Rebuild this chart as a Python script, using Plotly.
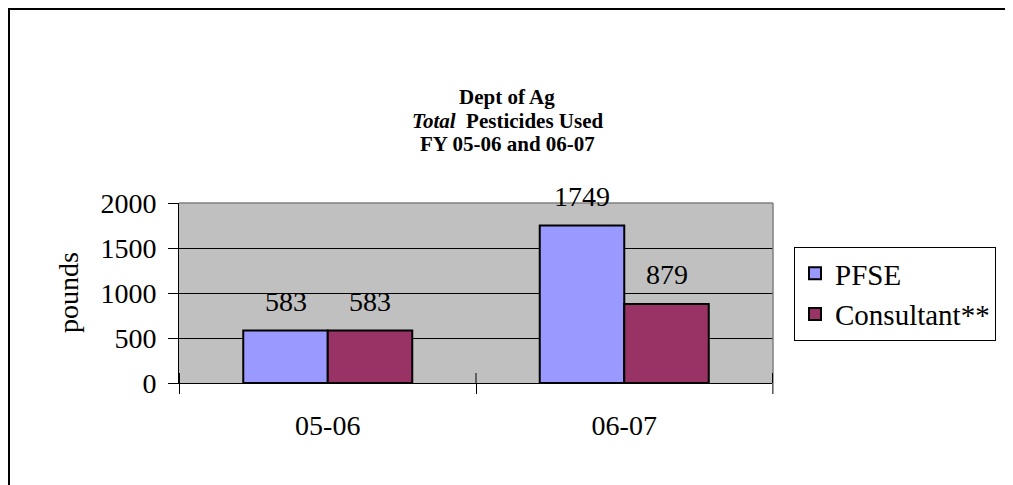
import plotly.graph_objects as go

categories = ["05-06", "06-07"]
series_names = ["PFSE", "Consultant**"]
pfse = [583, 1749]
consultant = [583, 879]
y_ticks = [0, 500, 1000, 1500, 2000]
title_lines = ["<b>Dept of Ag</b>", "<b><i>Total</i>  Pesticides Used</b>", "<b>FY 05-06 and 06-07</b>"]

colors = ["#9999FF", "#993366"]
FONT = "Liberation Serif, Times New Roman, serif"
BARGAP = 0.43
FS = 28

# page has an 8px body margin; work in figure pixels
OFF = 8
W, H = 1013 - OFF, 485 - OFF
L, R, T, B = 179 - OFF, 773 - OFF, 203 - OFF, 383 - OFF
pw, ph = R - L, B - T
def px(x):
    return (x - OFF - L) / pw
def py(y):
    return (B - (y - OFF)) / ph

fig = go.Figure()
for i, (name, vals) in enumerate(zip(series_names, [pfse, consultant])):
    fig.add_trace(go.Bar(
        x=categories, y=vals, name=name,
        marker=dict(color=colors[i], line=dict(color="black", width=2)),
        legendgroup=name,
    ))

# data labels
half = (1 - BARGAP) / 4
for i, vals in enumerate([pfse, consultant]):
    off = -half if i == 0 else half
    for j, v in enumerate(vals):
        fig.add_annotation(x=j + off, y=v, xref="x", yref="y", text=str(v),
                           showarrow=False, yanchor="bottom", yshift=12,
                           font=dict(family=FONT, size=FS, color="black"))

# title lines
for k, (line, ypos) in enumerate(zip(title_lines, [97, 120.5, 144])):
    fig.add_annotation(x=px(507), y=py(ypos), xref="paper", yref="paper",
                       text=line, showarrow=False, xanchor="center", yanchor="middle",
                       font=dict(family=FONT, size=21, color="black"))

fig.add_annotation(x=px(68), y=py(293), xref="paper", yref="paper", text="pounds",
                   textangle=-90, showarrow=False, xanchor="center", yanchor="middle",
                   font=dict(family=FONT, size=FS, color="black"))

# chart border (outer frame)
fig.add_shape(type="rect", xref="paper", yref="paper",
              x0=px(OFF + 1), x1=px(1040), y0=py(520), y1=py(OFF + 1),
              line=dict(color="black", width=2), fillcolor="rgba(0,0,0,0)")
# plot area top/right border
fig.add_shape(type="line", xref="paper", yref="paper", x0=0, x1=1, y0=1, y1=1,
              line=dict(color="#808080", width=1.5))
fig.add_shape(type="line", xref="paper", yref="paper", x0=1, x1=1, y0=py(394), y1=1,
              line=dict(color="#808080", width=1.5))
# inner half of the category-boundary tick marks (ticks cross the axis)
for j in range(len(categories) + 1):
    fig.add_shape(type="line", xref="x", yref="paper", x0=j - 0.5, x1=j - 0.5,
                  y0=0, y1=10 / ph, line=dict(color="black", width=1))

fig.update_layout(
    width=W, height=H, autosize=False,
    margin=dict(l=L, r=W - R, t=T, b=H - B, pad=0),
    paper_bgcolor="white", plot_bgcolor="#C0C0C0",
    barmode="group", bargap=BARGAP, bargroupgap=0,
    font=dict(family=FONT, size=FS, color="black"),
    showlegend=True,
    legend=dict(x=px(794), y=py(247), xanchor="left", yanchor="top",
                bordercolor="black", borderwidth=1, bgcolor="white",
                font=dict(family=FONT, size=29, color="black"),
                tracegroupgap=0, traceorder="normal", itemwidth=30),
    xaxis=dict(type="category", showline=True, linecolor="black", linewidth=1,
               ticks="outside", tickson="boundaries", ticklen=10,
               tickcolor="black", tickwidth=1, showgrid=False,
               tickfont=dict(family=FONT, size=FS, color="black"),
               ticklabelstandoff=17),
    yaxis=dict(range=[0, 2000], tickvals=y_ticks, showline=True, linecolor="black",
               linewidth=1, ticks="outside", ticklen=10, tickcolor="black",
               showgrid=True, gridcolor="black", gridwidth=1, zeroline=False,
               tickfont=dict(family=FONT, size=FS, color="black"),
               ticklabelstandoff=6),
)

fig.write_html("out.html")
